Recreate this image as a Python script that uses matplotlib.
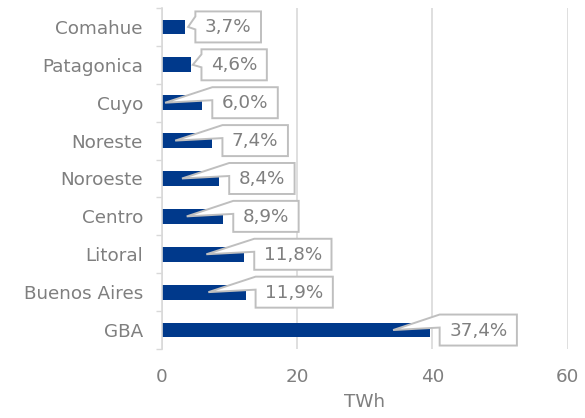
import matplotlib
matplotlib.use("Agg")
import matplotlib.pyplot as plt
from matplotlib.patches import Polygon
from matplotlib.ticker import FixedLocator

# ---- data ----
regions = ["Comahue", "Patagonica", "Cuyo", "Noreste", "Noroeste",
           "Centro", "Litoral", "Buenos Aires", "GBA"]
twh = [3.5, 4.4, 6.0, 7.5, 8.5, 9.1, 12.2, 12.4, 39.6]
share_pct = [3.7, 4.6, 6.0, 7.4, 8.4, 8.9, 11.8, 11.9, 37.4]
x_ticks = [0, 20, 40, 60]
x_label = "TWh"

# ---- layout of callout pointers (data x of the pointer tip) ----
tip_x = [3.9, 4.6, 0.5, 2.0, 3.0, 3.7, 6.6, 6.9, 34.2]

TXT = "#7f7f7f"
GRID = "#d9d9d9"
BAR = "#00398B"
FS = 13.2

fig = plt.figure(figsize=(5.85, 4.18), dpi=100)
ax = fig.add_axes([0.2764, 0.1651, 0.6940, 0.8158])

ypos = list(range(len(regions)))
ax.barh(ypos, twh, height=0.39, color=BAR, zorder=2)

ax.set_xlim(0, 60)
ax.set_ylim(len(regions) - 0.5, -0.5)
ax.set_xticks(x_ticks)
ax.set_xticklabels([str(t) for t in x_ticks])
ax.set_yticks(ypos)
ax.set_yticklabels(regions)
ax.yaxis.set_minor_locator(FixedLocator([i - 0.5 for i in range(len(regions) + 1)]))

ax.tick_params(axis="x", length=0, pad=13.5, labelsize=FS, labelcolor=TXT)
ax.tick_params(axis="y", which="major", length=0, pad=13.5, labelsize=FS, labelcolor=TXT)
ax.tick_params(axis="y", which="minor", length=4.5, width=1, color=GRID)

for s in ["top", "right", "bottom"]:
    ax.spines[s].set_visible(False)
ax.spines["left"].set_color(GRID)
ax.spines["left"].set_linewidth(1.2)

ax.grid(axis="x", color=GRID, linewidth=1.2, zorder=0)
ax.grid(axis="y", visible=False)
ax.set_axisbelow(True)

ax.set_xlabel(x_label, fontsize=FS, color=TXT, labelpad=5)

# ---- callout labels ----
fig.canvas.draw()
renderer = fig.canvas.get_renderer()
inv = ax.transData.inverted()
box_h = 31
for i, (v, p, tx) in enumerate(zip(twh, share_pct, tip_x)):
    lab = f"{p:.1f}%".replace(".", ",")
    ax_x, ax_y = ax.transData.transform((v, i))
    L = ax_x + 10
    t = ax.text(0, 0, lab, fontsize=FS, color=TXT, ha="center", va="center",
                zorder=5, transform=None)
    w = t.get_window_extent(renderer).width + 19
    R = L + w
    T = ax_y + box_h / 2
    B = ax_y - box_h / 2
    t.set_position((L + w / 2, ax_y - 0.5))
    tipx, tipy = ax.transData.transform((tx, i))
    off = 0 if (L - tipx) > 20 else 5
    verts_px = [(L, T), (R, T), (R, B), (L, B), (L, T - off - 13),
                (tipx, tipy), (L, T - off), (L, T)]
    verts = inv.transform(verts_px)
    ax.add_patch(Polygon(verts, closed=True, facecolor="white", edgecolor="#bfbfbf",
                         linewidth=1.4, zorder=4, clip_on=False, joinstyle="miter"))

fig.savefig("out.png", dpi=100)
